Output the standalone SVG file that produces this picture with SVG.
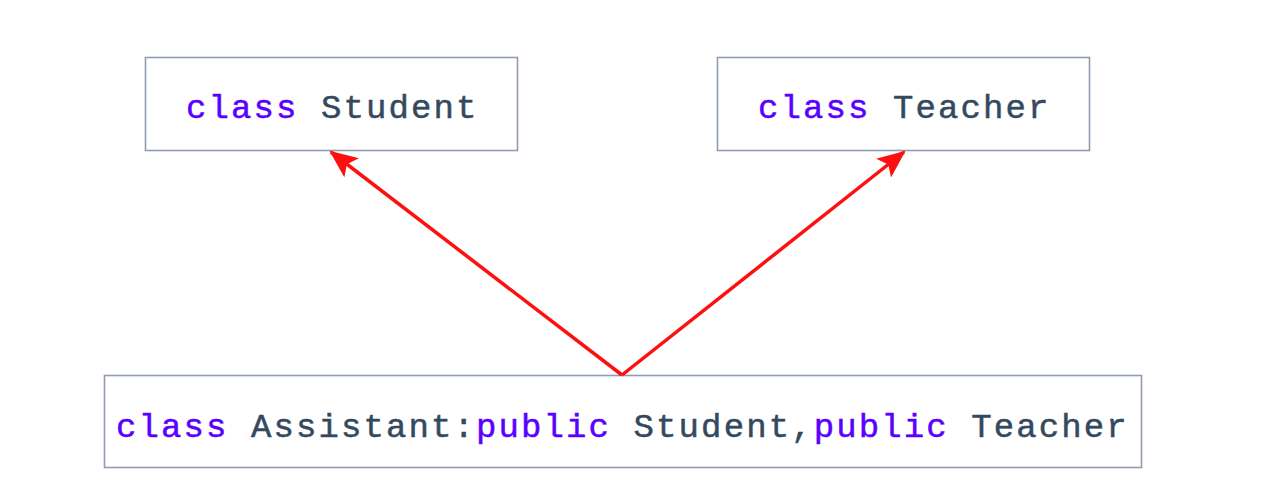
<svg xmlns="http://www.w3.org/2000/svg" width="1264" height="504" viewBox="0 0 1264 504">
<style>
.box{fill:#ffffff;stroke:#8f9cb2;stroke-width:1.6}
.t{font-family:"Liberation Mono","DejaVu Sans Mono",monospace;font-size:34px;letter-spacing:2.1px;fill:#34495e;stroke:#34495e;stroke-width:0.5}
.k{fill:#5a00ff;stroke:#5a00ff}
.edge{stroke:#ff1010;stroke-width:3.5;fill:none}
</style>
<defs>
<marker id="ah" viewBox="0 0 28 24" refX="26" refY="12" markerWidth="28" markerHeight="24" markerUnits="userSpaceOnUse" orient="auto">
<path d="M0,0 L28,12 L0,24 L6,12 Z" fill="#ff1010"/>
</marker>
</defs>
<rect width="1264" height="504" fill="#ffffff"/>
<g id="student">
<rect class="box" x="145.5" y="57.5" width="372" height="93"/>
<text class="t" x="186" y="118"><tspan class="k">class</tspan> Student</text>
</g>
<g id="teacher">
<rect class="box" x="717.5" y="57.5" width="372" height="93"/>
<text class="t" x="758" y="118"><tspan class="k">class</tspan> Teacher</text>
</g>
<g id="assistant">
<rect class="box" x="104.5" y="375.5" width="1037" height="92"/>
<text class="t" x="116" y="437"><tspan class="k">class</tspan> Assistant:<tspan class="k">public</tspan> Student,<tspan class="k">public</tspan> Teacher</text>
</g>
<g id="connectors">
<line class="edge" x1="622" y1="375" x2="331" y2="152" marker-end="url(#ah)"/>
<line class="edge" x1="622" y1="375" x2="904" y2="152" marker-end="url(#ah)"/>
</g>
</svg>
